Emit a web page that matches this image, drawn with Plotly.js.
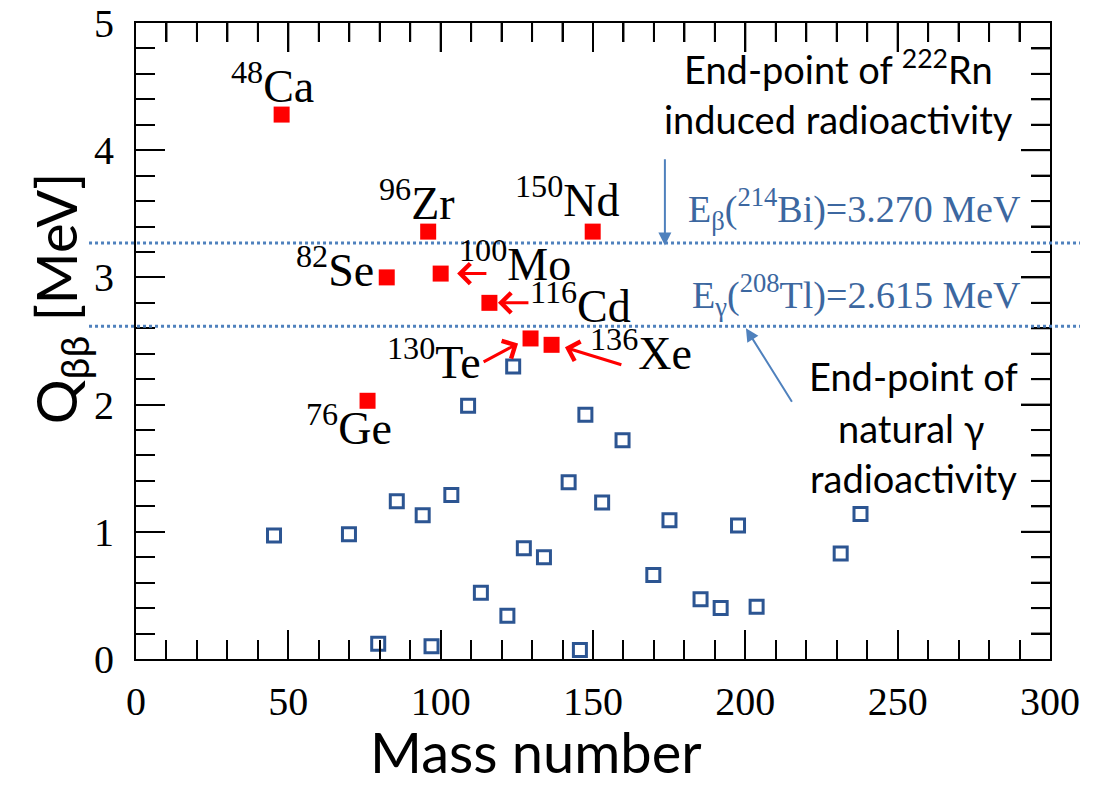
<!DOCTYPE html>
<html>
<head>
<meta charset="utf-8">
<script src="https://cdn.plot.ly/plotly-3.0.1.min.js"></script>
<style>html,body{margin:0;padding:0;background:#fff;}#chart{width:1101px;height:786px;}</style>
</head>
<body>
<div id="chart"></div>
<script>
// Double-beta candidates (filled red squares)
const dbdMass = [47.8, 76, 82.3, 95.9, 100, 116, 129.5, 136.4, 149.9];
const dbdQ = [4.28, 2.03, 3.00, 3.36, 3.03, 2.80, 2.52, 2.47, 3.36];
const dbdLabels = ['<sup>48</sup>Ca', '<sup>76</sup>Ge', '<sup>82</sup>Se', '<sup>96</sup>Zr', '<sup>100</sup>Mo', '<sup>116</sup>Cd', '<sup>130</sup>Te', '<sup>136</sup>Xe', '<sup>150</sup>Nd'];
// Other double-beta emitters (open blue squares)
const otherMass = [45.3, 69.9, 79.5, 85.6, 94.1, 97, 103.5, 109, 113.2, 121.9, 123.8, 127.3, 133.9, 142, 145.7, 147.5, 153, 159.7, 169.8, 175.1, 185.3, 191.9, 197.6, 203.7, 231.3, 237.8];
const otherQ = [0.97, 0.98, 0.12, 1.24, 1.13, 0.10, 1.29, 1.99, 0.52, 0.34, 2.30, 0.87, 0.80, 1.39, 0.07, 1.92, 1.23, 1.72, 0.66, 1.09, 0.47, 0.40, 1.05, 0.41, 0.83, 1.14];
// Background end-points
const bgLevels = [3.270, 2.615];
const bgLabels = ['E<sub>β</sub>(<sup>214</sup>Bi)=3.270 MeV', 'E<sub>γ</sub>(<sup>208</sup>Tl)=2.615 MeV'];
const xTicks = [0, 50, 100, 150, 200, 250, 300];
const yTicks = [0, 1, 2, 3, 4, 5];

const serif = 'Liberation Serif, Times New Roman, serif';
const sans = 'Lato, Carlito, sans-serif';
const lineBlue = '#4f81bd';
const textBlue = '#3c67a0';

const X_RANGE = [0, 300], Y_RANGE = [0, 5];
const X_MINOR = 10, Y_MINOR = 0.2;
const PLOT_W = 914, PLOT_H = 636;
const MAJOR_LEN = 29, MINOR_LEN = 19;

// label placement (data coords of label centre) per candidate
const labelPos = {
  '<sup>48</sup>Ca': [44.8, 4.53],
  '<sup>76</sup>Ge': [69.8, 1.84],
  '<sup>82</sup>Se': [65.3, 3.08],
  '<sup>96</sup>Zr': [92.1, 3.61],
  '<sup>100</sup>Mo': [124.4, 3.13],
  '<sup>116</sup>Cd': [146.0, 2.80],
  '<sup>130</sup>Te': [97.8, 2.36],
  '<sup>136</sup>Xe': [165.8, 2.43],
  '<sup>150</sup>Nd': [141.6, 3.63]
};

// mirrored inside ticks on the top and right frame edges, built from the axis tick spacing
const topTickX = [], topTickY = [], rightTickX = [], rightTickY = [];
const xUnitsPerPx = (X_RANGE[1] - X_RANGE[0]) / PLOT_W;
const yUnitsPerPx = (Y_RANGE[1] - Y_RANGE[0]) / PLOT_H;
const nx = Math.round((X_RANGE[1] - X_RANGE[0]) / X_MINOR);
for (let i = 1; i < nx; i++) {
  const v = X_RANGE[0] + i * X_MINOR;
  const len = (xTicks.indexOf(v) >= 0 ? MAJOR_LEN : MINOR_LEN) * yUnitsPerPx;
  topTickX.push(v, v, null);
  topTickY.push(Y_RANGE[1], Y_RANGE[1] - len, null);
}
const ny = Math.round((Y_RANGE[1] - Y_RANGE[0]) / Y_MINOR);
for (let i = 1; i < ny; i++) {
  const v = +(Y_RANGE[0] + i * Y_MINOR).toFixed(2);
  const len = (yTicks.indexOf(v) >= 0 ? MAJOR_LEN : MINOR_LEN) * xUnitsPerPx;
  rightTickX.push(X_RANGE[1], X_RANGE[1] - len, null);
  rightTickY.push(v, v, null);
}

const traces = [
  {
    x: topTickX, y: topTickY, type: 'scatter', mode: 'lines', connectgaps: false,
    line: {color: '#000', width: 2}, hoverinfo: 'skip', cliponaxis: false
  },
  {
    x: rightTickX, y: rightTickY, type: 'scatter', mode: 'lines', connectgaps: false,
    line: {color: '#000', width: 2}, hoverinfo: 'skip', cliponaxis: false
  },
  {
    x: otherMass, y: otherQ, type: 'scatter', mode: 'markers',
    marker: {symbol: 'square-open', size: 13, color: '#2c5592', line: {width: 3, color: '#2c5592'}},
    hoverinfo: 'skip', cliponaxis: false
  },
  {
    x: dbdMass, y: dbdQ, type: 'scatter', mode: 'markers',
    marker: {symbol: 'square', size: 16, color: '#ff0000', line: {width: 0}},
    hoverinfo: 'skip', cliponaxis: false
  }
];

const annotations = [];
dbdLabels.forEach(function (t) {
  const p = labelPos[t];
  annotations.push({x: p[0], y: p[1], xref: 'x', yref: 'y', text: t, showarrow: false,
    xanchor: 'center', yanchor: 'middle', font: {family: serif, size: 46, color: '#000'}});
});

// red arrows (head x,y ; tail ax,ay) in data coords
const redArrows = [
  [105.4, 3.03, 115.5, 3.03],
  [118.8, 2.80, 129.3, 2.80],
  [125.4, 2.48, 113.6, 2.33],
  [140.8, 2.45, 159.8, 2.31]
];
redArrows.forEach(function (a) {
  annotations.push({x: a[0], y: a[1], ax: a[2], ay: a[3], xref: 'x', yref: 'y', axref: 'x', ayref: 'y',
    text: '', showarrow: true, arrowhead: 4, arrowsize: 1.3, arrowwidth: 3, arrowcolor: '#ff0000', standoff: 0, startstandoff: 0});
});
// blue arrows
const blueArrows = [
  [173.6, 3.25, 173.6, 3.94],
  [200.2, 2.60, 215.6, 2.01]
];
blueArrows.forEach(function (a) {
  annotations.push({x: a[0], y: a[1], ax: a[2], ay: a[3], xref: 'x', yref: 'y', axref: 'x', ayref: 'y',
    text: '', showarrow: true, arrowhead: 2, arrowsize: 1.3, arrowwidth: 2, arrowcolor: lineBlue, standoff: 0, startstandoff: 0});
});

// background level labels
const bgLabelY = [0.708, 0.573];
bgLabels.forEach(function (t, i) {
  annotations.push({x: 0.9705, y: bgLabelY[i], xref: 'paper', yref: 'paper', text: t, showarrow: false,
    xanchor: 'right', yanchor: 'middle', font: {family: serif, size: 38, color: textBlue}});
});

// explanatory text
const notes = [
  ['End-point of <sup>222</sup>Rn', 0.769, 67],
  ['induced radioactivity', 0.769, 119],
  ['End-point of', 0.851, 376],
  ['natural γ', 0.849, 428],
  ['radioactivity', 0.851, 478]
];
notes.forEach(function (n) {
  annotations.push({x: n[1], y: (659 - n[2]) / PLOT_H, xref: 'paper', yref: 'paper', text: n[0], showarrow: false,
    xanchor: 'center', yanchor: 'middle', font: {family: sans, size: 38, color: '#000'}});
});

// axis titles
annotations.push({x: -0.084, y: 0.5676, xref: 'paper', yref: 'paper', text: 'Q<sub>ββ</sub> [MeV]', showarrow: false,
  textangle: -90, xanchor: 'center', yanchor: 'middle', font: {family: sans, size: 56, color: '#000'}});
annotations.push({x: 0.4376, y: -0.145, xref: 'paper', yref: 'paper', text: 'Mass number', showarrow: false,
  xanchor: 'center', yanchor: 'middle', font: {family: sans, size: 56, color: '#000'}});

const shapes = bgLevels.map(function (v) {
  return {type: 'line', xref: 'paper', yref: 'paper', x0: -0.0514, x1: 1.0328, y0: v / Y_RANGE[1], y1: v / Y_RANGE[1],
    line: {color: lineBlue, width: 3, dash: 'dot'}};
});

const axisCommon = {
  showgrid: false, zeroline: false, showline: true, linecolor: '#000', linewidth: 2, mirror: 'ticks',
  ticks: 'inside', ticklen: MAJOR_LEN, tickwidth: 2, tickcolor: '#000',
  tickfont: {family: serif, size: 40, color: '#000'}
};

const layout = {
  width: 1101, height: 786,
  margin: {l: 136, r: 51, t: 23, b: 127},
  paper_bgcolor: '#fff', plot_bgcolor: '#fff',
  showlegend: false,
  xaxis: Object.assign({}, axisCommon, {
    range: X_RANGE, tickmode: 'array', tickvals: xTicks, ticktext: xTicks.map(String),
    ticklabelstandoff: 6,
    minor: {dtick: X_MINOR, ticks: 'inside', ticklen: MINOR_LEN, tickwidth: 2, tickcolor: '#000', showgrid: false}
  }),
  yaxis: Object.assign({}, axisCommon, {
    range: Y_RANGE, tickmode: 'array', tickvals: yTicks, ticktext: yTicks.map(String),
    ticklabelstandoff: 12,
    minor: {dtick: Y_MINOR, ticks: 'inside', ticklen: MINOR_LEN, tickwidth: 2, tickcolor: '#000', showgrid: false}
  }),
  shapes: shapes,
  annotations: annotations
};

Plotly.newPlot('chart', traces, layout, {staticPlot: true, displayModeBar: false});
</script>
</body>
</html>
